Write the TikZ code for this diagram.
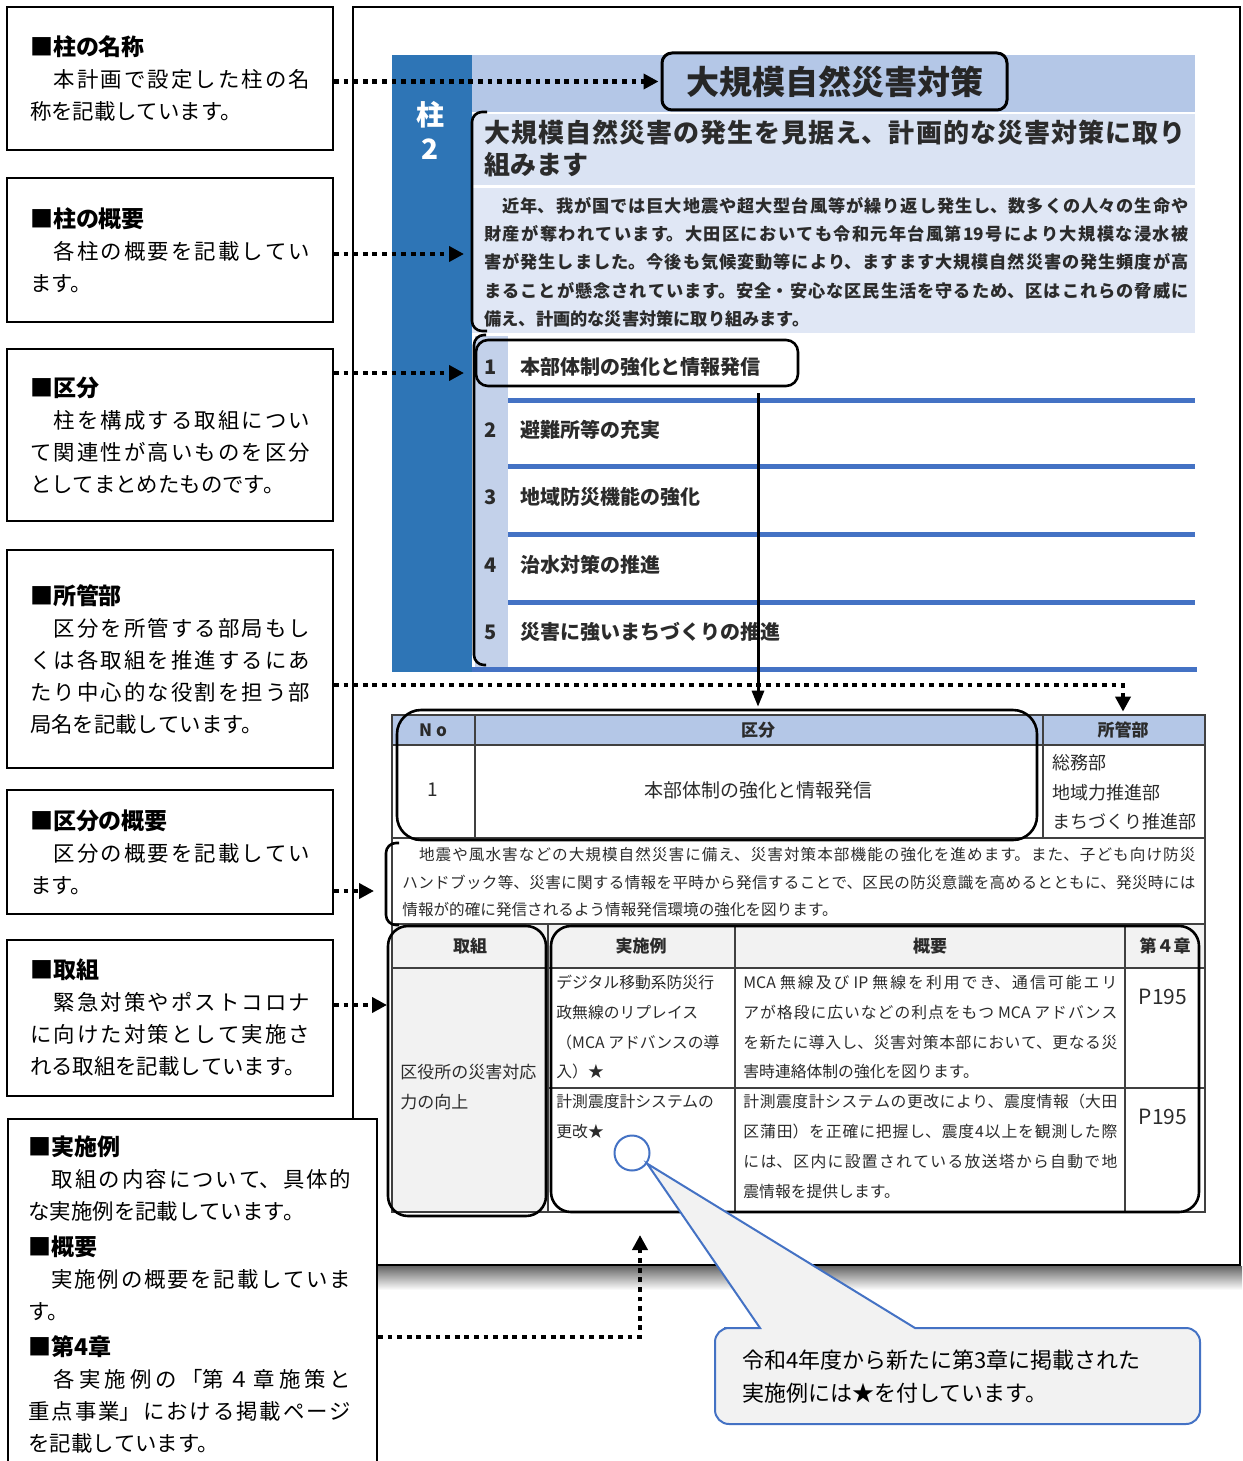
\documentclass[tikz,border=0pt]{standalone}
\usepackage{fontspec}
\setmainfont{Noto Sans CJK JP}
\usetikzlibrary{arrows.meta}
\XeTeXlinebreaklocale "ja"
\XeTeXlinebreakskip=0pt plus 3pt

\definecolor{pillarblue}{HTML}{2E75B6}
\definecolor{headblue}{HTML}{B4C7E7}
\definecolor{paleblue}{HTML}{DAE3F3}
\definecolor{numblue}{HTML}{C3D1EA}
\definecolor{lineblue}{HTML}{4472C4}
\definecolor{cellgray}{HTML}{F2F2F2}
\definecolor{ink}{HTML}{2B2B2B}

\newcommand{\boxhead}[1]{{\fontsize{11.5}{16}\selectfont\bfseries ■#1}\\}

\tikzset{
  notebox/.style={draw, line width=1pt, fill=white, text width=140pt, minimum width=163pt,
    align=justify, font=\fontsize{10.7}{16}\selectfont},
  pointer/.style={line width=2.4pt, dash pattern=on 2.4pt off 2.4pt,
    -{Triangle[length=7.5pt,width=7.5pt]}, shorten >=1pt},
  leader/.style={line width=1.5pt, -{Triangle[length=8pt,width=6pt]}},
  focus/.style={draw, line width=1.3pt, rounded corners=6pt, inner sep=0pt},
  openbracket/.style={line width=1.3pt, rounded corners=5pt},
  sepline/.style={lineblue, line width=2.5pt},
  tblrule/.style={black!75, line width=0.6pt},
  listnum/.style={font=\fontsize{10}{12}\selectfont\bfseries, text=ink, inner sep=0pt},
  listitem/.style={listnum, anchor=west},
  headtext/.style={font=\fontsize{8.5}{10}\selectfont\bfseries, text=ink, inner sep=0pt, minimum height=15pt},
  bodytext/.style={font=\fontsize{7.9}{14.85}\selectfont, text=ink, inner sep=0pt, anchor=north west, align=left},
  justtext/.style={bodytext, align=justify, text width=187pt},
  calloutline/.style={draw=lineblue, line width=1pt, fill=cellgray},
}

\begin{document}
\begin{tikzpicture}[x=0.5pt, y=-0.5pt]
\useasboundingbox (0,0) rectangle (1242,1461);
\clip (0,0) rectangle (1242,1461);

% page frame with shadow
\draw[line width=1pt] (353,7) rectangle (1240,1265);
\shade[top color=black!60, bottom color=white] (354,1266) rectangle (1242,1290);

% pillar header
\fill[pillarblue] (392,55) rectangle (472,672);
\node[font=\fontsize{14}{17}\selectfont\bfseries, text=white, align=center] (pillarNo) at (430,130) {柱\\2};
\fill[headblue] (472,55) rectangle (1195,112);
\node[draw, line width=1.5pt, rounded corners=5pt, fill=headblue, minimum width=172.5pt, minimum height=28.5pt,
  font=\fontsize{16.5}{18}\selectfont\bfseries, text=black!85] (pillarName) at (834.5,81.5) {大規模自然災害対策};
\fill[paleblue] (472,114) rectangle (1195,185);
\fill[paleblue!85] (472,188) rectangle (1195,333);
\node[anchor=north west, inner sep=0pt, text width=350.5pt, align=justify,
  font=\fontsize{13}{16}\selectfont\bfseries, text=ink] (pillarLead) at (484,120)
  {大規模自然災害の発生を見据え、計画的な災害対策に取り\linebreak 組みます};
\node[anchor=north west, inner sep=0pt, text width=352pt, align=justify,
  font=\fontsize{8.6}{14.1}\selectfont\bfseries, text=ink] (pillarText) at (484,197)
  {　近年、我が国では巨大地震や超大型台風等が繰り返し発生し、数多くの人々の生命や\linebreak 財産が奪われています。大田区においても令和元年台風第19号により大規模な浸水被\linebreak 害が発生しました。今後も気候変動等により、ますます大規模自然災害の発生頻度が高\linebreak まることが懸念されています。安全・安心な区民生活を守るため、区はこれらの脅威に\linebreak 備え、計画的な災害対策に取り組みます。};

% list of groups
\fill[numblue] (475,336) rectangle (508,669);
\foreach \y in {400,466,534,602} {
  \draw[sepline] (508,\y) -- (1195,\y);
}
\draw[sepline] (472,669) -- (1197,669);
\foreach \n/\y/\t in {1/367/本部体制の強化と情報発信, 2/430/避難所等の充実, 3/497/地域防災機能の強化,
                      4/565/治水対策の推進, 5/632/災害に強いまちづくりの推進} {
  \node[listnum] (num\n) at (491,\y) {\n};
  \node[listitem] (item\n) at (520,\y) {\t};
}
\node[focus, minimum width=161pt, minimum height=23pt] (focusItem) at (637,363) {};
\draw[openbracket] (487,112) -- (472,112) -- (472,331) -- (487,331);
\draw[openbracket] (486,335) -- (474,335) -- (474,665) -- (486,665);

% table
\fill[headblue] (392,715) rectangle (1205,745);
\fill[cellgray] (392,924) rectangle (1205,968);
\fill[cellgray] (392,968) rectangle (548,1212);
\draw[tblrule] (392,715) rectangle (1205,1212);
\draw[tblrule] (392,745) -- (1205,745) (392,838) -- (1205,838) (392,924) -- (1205,924)
  (392,968) -- (1205,968) (548,1088) -- (1205,1088);
\draw[tblrule] (475,715) -- (475,838) (1043,715) -- (1043,838)
  (548,924) -- (548,1212) (735,924) -- (735,1212) (1125,924) -- (1125,1212);

\node[headtext] (noHead) at (433,730) {N o};
\node[headtext] (kubunHead) at (758,730) {区分};
\node[headtext] (deptHead) at (1123,730) {所管部};
\node[font=\fontsize{9.5}{12}\selectfont, text=ink] (noCell) at (433,790) {1};
\node[font=\fontsize{9.5}{12}\selectfont, text=ink] (kubunCell) at (758,790) {本部体制の強化と情報発信};
\node[bodytext, font=\fontsize{9}{14.75}\selectfont] (deptCell) at (1052,754) {総務部\\地域力推進部\\まちづくり推進部};
\node[bodytext, align=justify, text width=396.5pt, font=\fontsize{7.8}{13.75}\selectfont] (groupText) at (402,847)
  {　地震や風水害などの大規模自然災害に備え、災害対策本部機能の強化を進めます。また、子ども向け防災\linebreak ハンドブック等、災害に関する情報を平時から発信することで、区民の防災意識を高めるとともに、発災時には\linebreak 情報が的確に発信されるよう情報発信環境の強化を図ります。};
\draw[openbracket] (399,843) -- (386,843) -- (386,925) -- (399,925);

\node[headtext] (effortHead) at (470,946) {取組};
\node[headtext] (caseHead) at (641,946) {実施例};
\node[headtext] (summaryHead) at (930,946) {概要};
\node[headtext] (chapterHead) at (1165,946) {第４章};
\node[bodytext, font=\fontsize{8.5}{15}\selectfont] (effortCell) at (400,1064) {区役所の災害対応\\力の向上};
\node[bodytext] (caseA) at (556,975) {デジタル移動系防災行\\政無線のリプレイス\\（MCA アドバンスの導\\入）★};
\node[justtext] (summaryA) at (743,975)
  {MCA 無線及び IP 無線を利用でき、通信可能エリ\linebreak アが格段に広いなどの利点をもつ MCA アドバンス\linebreak を新たに導入し、災害対策本部において、更なる災\linebreak 害時連絡体制の強化を図ります。};
\node[font=\fontsize{10.5}{12}\selectfont, text=ink] (pageA) at (1163,997) {P195};
\node[bodytext] (caseB) at (556,1094) {計測震度計システムの\\更改★};
\node[justtext] (summaryB) at (743,1094)
  {計測震度計システムの更改により、震度情報（大田\linebreak 区蒲田）を正確に把握し、震度4以上を観測した際\linebreak には、区内に設置されている放送塔から自動で地\linebreak 震情報を提供します。};
\node[font=\fontsize{10.5}{12}\selectfont, text=ink] (pageB) at (1163,1117) {P195};

\node[focus, rounded corners=12pt, minimum width=320pt, minimum height=65pt] (kubunBox) at (717,775) {};
\node[focus, rounded corners=10pt, minimum width=79pt, minimum height=145pt] (effortBox) at (467,1071) {};
\node[focus, rounded corners=10pt, minimum width=324pt, minimum height=143pt] (caseBox) at (875,1069) {};

\draw[leader, shorten <=3pt, shorten >=1pt] (focusItem.south -| kubunHead.north) -- (kubunBox.north -| kubunHead.north);

% callout
\node[draw=lineblue, line width=1pt, circle, minimum size=17.5pt, inner sep=0pt] (starMark) at (632,1153) {};
\draw[calloutline] (738,1328) -- (760,1328) -- (starMark.-35) -- (915,1328) -- (930,1328)
  [rounded corners=7pt] -- (1200,1328) -- (1200,1424) -- (715,1424) -- (715,1328) -- cycle;
\node[anchor=north west, align=left, inner sep=0pt, font=\fontsize{11}{16.5}\selectfont] (calloutText) at (742,1349)
  {令和4年度から新たに第3章に掲載された\\実施例には★を付しています。};

% explanation boxes
\node[notebox, minimum height=71.5pt] (nameBox) at (170,78.5)
  {\boxhead{柱の名称}　本計画で設定した柱の名\linebreak 称を記載しています。};
\node[notebox, minimum height=72pt] (outlineBox) at (170,250)
  {\boxhead{柱の概要}　各柱の概要を記載してい\linebreak ます。};
\node[notebox, minimum height=86pt] (groupBox) at (170,435)
  {\boxhead{区分}　柱を構成する取組につい\linebreak て関連性が高いものを区分\linebreak としてまとめたものです。};
\node[notebox, minimum height=109pt] (deptBox) at (170,659)
  {\boxhead{所管部}　区分を所管する部局もし\linebreak くは各取組を推進するにあ\linebreak たり中心的な役割を担う部\linebreak 局名を記載しています。};
\node[notebox, minimum height=62pt] (groupSumBox) at (170,852)
  {\boxhead{区分の概要}　区分の概要を記載してい\linebreak ます。};
\node[notebox, minimum height=78pt] (effortNote) at (170,1018)
  {\boxhead{取組}　緊急対策やポストコロナ\linebreak に向けた対策として実施さ\linebreak れる取組を記載しています。};
\node[draw, line width=1pt, fill=white, anchor=north west, minimum width=184.5pt, minimum height=181pt] (exampleBox) at (7,1118) {};
\node[anchor=north west, inner xsep=10.5pt, inner ysep=8.5pt, text width=161.5pt, align=justify,
  font=\fontsize{10.7}{16}\selectfont] (exampleText) at (7,1118)
  {\boxhead{実施例}　取組の内容について、具体的\linebreak な実施例を記載しています。\\[2pt]\boxhead{概要}　実施例の概要を記載していま\linebreak す。\\[2pt]\boxhead{第4章}　各実施例の「第４章施策と\linebreak 重点事業」における掲載ページ\linebreak を記載しています。};

% dotted pointers
\coordinate (leadMark) at (466,254);
\coordinate (listMark) at (466,373);
\coordinate (deptTurn) at (1122,685);
\coordinate (groupMark) at (376,891);
\coordinate (effortMark) at (389,1005);
\coordinate (exampleTurn) at (640,1337);
\coordinate (exampleTip) at (640,1233);
\draw[pointer] (nameBox.east |- pillarName.west) -- (pillarName.west);
\draw[pointer] (outlineBox.east |- leadMark) -- (leadMark);
\draw[pointer] (groupBox.east |- listMark) -- (listMark);
\draw[pointer, shorten >=1.5pt] (deptBox.east |- deptTurn) -| (deptHead.north);
\draw[pointer] (groupSumBox.east |- groupMark) -- (groupMark);
\draw[pointer] (effortNote.east |- effortMark) -- (effortMark);
\draw[pointer] (exampleBox.east |- exampleTurn) -- (exampleTurn) -- (exampleTip);
\end{tikzpicture}
\end{document}
